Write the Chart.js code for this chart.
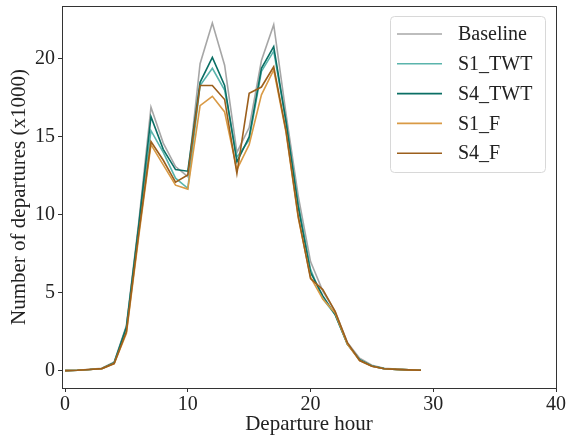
<!DOCTYPE html>
<html>
<head>
<meta charset="utf-8">
<script src="https://cdn.jsdelivr.net/npm/chart.js@4"></script>
<style>
  html, body { margin: 0; padding: 0; background: #fff; }
  #wrap { width: 566px; height: 437px; }
</style>
</head>
<body>
<div id="wrap"><canvas id="myChart" width="566" height="437"></canvas></div>
<script>
// departure hours and departures (x1000) per scenario
const hours = [0,1,2,3,4,5,6,7,8,9,10,11,12,13,14,15,16,17,18,19,20,21,22,23,24,25,26,27,28,29];
const baseline = [0,0.02,0.08,0.15,0.55,2.9,9.5,16.9,14.6,13.1,12.45,19.7,22.3,19.6,14.0,15.6,19.9,22.2,16.5,11.2,7.0,5.1,3.8,1.8,0.8,0.35,0.15,0.1,0.06,0.02];
const s1Twt = [0,0.02,0.07,0.14,0.5,2.8,9.2,15.4,14.0,12.35,11.7,18.3,19.4,18.0,13.7,14.8,19.2,20.5,16.0,10.7,6.5,4.6,3.6,1.7,0.7,0.3,0.13,0.08,0.05,0.02];
const s4Twt = [0,0.02,0.07,0.14,0.5,2.8,9.3,16.3,14.2,12.9,12.8,18.5,20.1,18.3,13.4,15.0,19.4,20.8,16.0,10.5,6.3,4.8,3.6,1.7,0.7,0.3,0.13,0.08,0.05,0.02];
const s1F = [0,0.02,0.07,0.13,0.45,2.4,8.6,14.5,13.2,11.9,11.65,17.0,17.6,16.6,12.9,14.5,17.7,19.3,15.3,9.8,6.0,4.6,3.7,1.7,0.65,0.28,0.12,0.08,0.05,0.02];
const s4F = [0,0.02,0.07,0.13,0.45,2.5,8.8,14.7,13.5,12.1,12.56,18.3,18.3,17.4,12.65,17.8,18.2,19.5,15.4,9.9,5.9,5.2,3.8,1.8,0.65,0.28,0.12,0.08,0.05,0.02];
const seriesNames = ['Baseline', 'S1_TWT', 'S4_TWT', 'S1_F', 'S4_F'];
const seriesValues = [baseline, s1Twt, s4Twt, s1F, s4F];
const xTicks = [0, 10, 20, 30, 40];
const yTicks = [0, 5, 10, 15, 20];

const colors = ['rgba(150,150,150,0.85)', '#5ab4ac', '#0b6f65', '#d99a45', '#9c5f1c'];
const FONT = "'Liberation Serif', serif";

const datasets = seriesNames.map((name, i) => ({
    label: name,
    data: hours.map((h, j) => ({ x: h, y: seriesValues[i][j] })),
    borderColor: colors[i],
    backgroundColor: colors[i],
    borderWidth: 1.6,
    pointRadius: 0,
    tension: 0,
    fill: false,
    order: seriesNames.length - i   // later series drawn on top
}));

// frame + legend box drawn inside the plot area
const framePlugin = {
    id: 'frame',
    afterDraw(chart) {
        const ctx = chart.ctx;
        const a = chart.chartArea;
        ctx.save();
        ctx.strokeStyle = '#333';
        ctx.lineWidth = 1;
        ctx.strokeRect(Math.round(a.left) + 0.5, Math.round(a.top) + 0.5,
                       Math.round(a.right - a.left), Math.round(a.bottom - a.top));

        // legend
        const bx = 390, by = 16, bw = 155, bh = 156;
        ctx.beginPath();
        ctx.roundRect(bx + 0.5, by + 0.5, bw, bh, 4);
        ctx.fillStyle = 'rgba(255,255,255,0.85)';
        ctx.fill();
        ctx.strokeStyle = '#d8d8d8';
        ctx.stroke();
        ctx.font = '20px ' + FONT;
        ctx.textBaseline = 'middle';
        chart.data.datasets.forEach((ds, i) => {
            const y = 34 + i * 29.8;
            ctx.strokeStyle = ds.borderColor;
            ctx.lineWidth = 1.6;
            ctx.beginPath();
            ctx.moveTo(397, y);
            ctx.lineTo(442, y);
            ctx.stroke();
            ctx.fillStyle = '#222';
            ctx.fillText(ds.label, 458, y + 1);
        });
        ctx.restore();
    }
};

const ctx = document.getElementById('myChart').getContext('2d');
const myChart = new Chart(ctx, {
    type: 'line',
    data: { datasets: datasets },
    options: {
        responsive: false,
        animation: false,
        layout: { padding: { top: 6, right: 10, left: 0, bottom: 0 } },
        plugins: {
            legend: { display: false },
            tooltip: { enabled: false }
        },
        scales: {
            x: {
                type: 'linear',
                min: -0.25,
                max: 40,
                afterBuildTicks: (scale) => { scale.ticks = xTicks.map(v => ({ value: v })); },
                afterFit: (scale) => {
                    scale.height = 49;
                    scale.paddingLeft = 0; scale.paddingRight = 0;
                },
                grid: { drawOnChartArea: false, drawTicks: true, tickLength: 4, color: '#333' },
                border: { display: true, color: '#333', width: 1 },
                ticks: { color: '#222', font: { family: FONT, size: 20 }, padding: 1, maxRotation: 0 },
                title: { display: true, text: 'Departure hour', color: '#222',
                         font: { family: FONT, size: 21 }, padding: { top: 0, bottom: 0 } }
            },
            y: {
                type: 'linear',
                min: -1.115,
                max: 23.4,
                afterBuildTicks: (scale) => { scale.ticks = yTicks.map(v => ({ value: v })); },
                afterFit: (scale) => {
                    scale.width = 62;
                    scale.paddingTop = 0; scale.paddingBottom = 0;
                },
                grid: { drawOnChartArea: false, drawTicks: true, tickLength: 4, color: '#333' },
                border: { display: true, color: '#333', width: 1 },
                ticks: { color: '#222', font: { family: FONT, size: 20 }, padding: 3 },
                title: { display: true, text: 'Number of departures (x1000)', color: '#222',
                         font: { family: FONT, size: 21 }, padding: { top: 7, bottom: 0 } }
            }
        }
    },
    plugins: [framePlugin]
});
</script>
</body>
</html>
